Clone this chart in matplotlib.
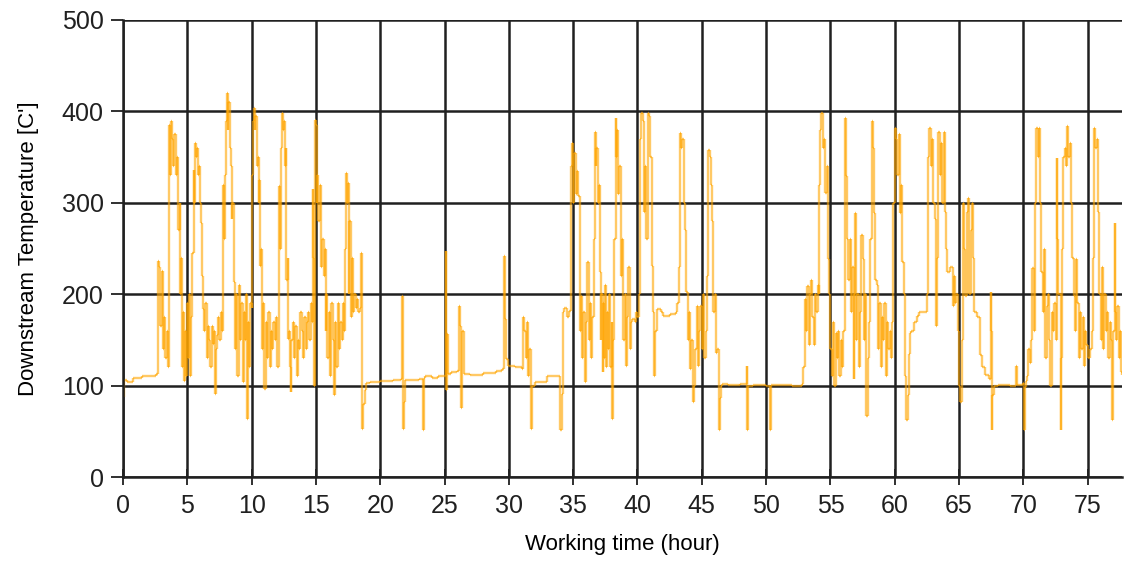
import matplotlib
matplotlib.use("Agg")
import matplotlib.pyplot as plt
from matplotlib.collections import LineCollection
import numpy as np

# readings as (working hour, downstream temperature C)
run_1 = [
    (0.0, 88), (0.05, 106), (0.3, 104), (0.8, 108), (1.5, 110), (2.0, 111), (2.6, 113),
    (2.7, 236), (2.8, 230), (2.9, 165), (3.0, 225), (3.1, 140), (3.2, 175), (3.3, 130),
    (3.4, 160), (3.5, 120), (3.55, 150), (3.6, 385), (3.65, 330), (3.7, 389), (3.8, 370),
    (3.9, 340), (4.0, 375), (4.1, 330), (4.2, 350), (4.3, 270), (4.4, 300), (4.45, 200),
    (4.5, 240), (4.6, 120), (4.7, 180), (4.75, 105), (4.8, 160), (4.9, 110), (5.0, 190),
    (5.05, 130), (5.1, 200), (5.2, 110), (5.3, 175), (5.4, 245), (5.5, 336), (5.55, 300),
    (5.6, 365), (5.7, 350), (5.75, 360), (5.8, 330), (5.9, 340), (6.0, 300), (6.1, 278),
    (6.15, 220), (6.2, 184), (6.3, 160), (6.4, 190), (6.5, 130), (6.6, 165), (6.7, 150),
    (6.8, 120), (6.9, 165), (7.0, 145), (7.1, 160), (7.15, 91), (7.2, 140), (7.3, 155),
    (7.4, 175), (7.5, 150), (7.6, 180), (7.7, 160), (7.8, 320), (7.85, 260), (7.9, 330),
    (8.0, 390), (8.1, 420), (8.15, 380), (8.2, 410), (8.3, 360), (8.4, 340), (8.45, 282),
    (8.5, 300), (8.6, 213), (8.7, 140), (8.8, 200), (8.9, 110), (9.0, 210), (9.1, 150),
    (9.2, 190), (9.3, 104), (9.4, 180), (9.5, 150), (9.6, 200), (9.65, 64), (9.7, 170),
    (9.8, 120), (9.9, 190), (10.0, 185), (10.05, 330), (10.1, 390), (10.2, 404),
    (10.25, 380), (10.3, 395), (10.4, 340), (10.5, 350), (10.55, 300), (10.6, 325),
    (10.65, 231), (10.7, 250), (10.8, 140), (10.9, 190), (11.0, 96), (11.1, 170),
    (11.2, 130), (11.3, 180), (11.4, 120), (11.5, 160), (11.6, 140), (11.7, 170),
    (11.8, 150), (11.9, 175), (12.0, 120), (12.1, 160), (12.15, 318), (12.2, 250),
    (12.3, 360), (12.4, 398), (12.45, 380), (12.5, 390), (12.6, 340), (12.65, 360),
    (12.7, 216), (12.8, 240), (12.85, 151), (12.9, 160), (13.0, 120), (13.05, 93),
    (13.1, 150), (13.2, 170), (13.3, 130), (13.4, 165), (13.5, 110), (13.6, 150),
    (13.7, 140), (13.8, 180), (13.9, 160), (14.0, 130), (14.1, 175), (14.2, 140),
    (14.3, 170), (14.4, 180), (14.5, 150), (14.6, 190), (14.7, 170), (14.75, 315),
    (14.8, 240), (14.85, 100), (14.9, 391), (15.0, 385), (15.05, 300), (15.1, 330),
    (15.2, 280), (15.3, 320), (15.4, 230), (15.5, 260), (15.6, 220), (15.7, 250),
    (15.75, 160), (15.8, 200), (15.9, 130), (16.0, 180), (16.1, 110), (16.2, 190),
    (16.3, 150), (16.4, 90), (16.5, 170), (16.6, 120), (16.7, 190), (16.8, 140),
    (16.9, 170), (17.0, 150), (17.1, 190), (17.2, 160), (17.3, 250), (17.35, 333),
    (17.4, 300), (17.5, 322), (17.55, 200), (17.6, 280), (17.7, 175), (17.8, 240),
    (17.9, 180), (18.0, 200), (18.1, 185), (18.2, 195), (18.3, 180), (18.4, 185),
    (18.5, 245), (18.55, 240), (18.6, 53), (18.7, 80), (18.8, 95),
]

idle_1 = [
    (18.9, 103), (19.2, 104), (20.0, 105), (21.0, 106), (21.6, 107), (21.7, 198),
    (21.75, 190), (21.8, 53), (21.85, 82), (21.9, 106), (22.5, 106), (23.0, 107),
    (23.3, 51), (23.4, 108), (23.5, 110), (24.0, 108), (24.5, 110), (25.0, 111),
    (25.1, 247), (25.15, 95), (25.2, 156), (25.3, 113), (25.5, 115), (26.0, 116),
    (26.1, 187), (26.2, 165), (26.25, 130), (26.3, 75), (26.35, 160), (26.5, 113),
    (27.0, 112), (28.0, 114), (29.0, 116), (29.5, 118), (29.6, 242), (29.7, 173),
    (29.8, 129), (29.9, 122), (30.5, 120), (31.0, 118), (31.1, 175), (31.2, 160),
    (31.3, 130), (31.4, 170), (31.5, 110), (31.6, 140), (31.7, 53), (31.8, 100),
    (32.0, 104), (33.0, 110), (34.0, 51), (34.1, 91), (34.2, 180), (34.3, 185),
    (34.5, 175), (34.7, 182),
]

run_2 = [
    (34.8, 185), (34.85, 340), (34.9, 365), (35.0, 300), (35.05, 345), (35.1, 355),
    (35.2, 310), (35.3, 335), (35.4, 307), (35.5, 240), (35.55, 160), (35.6, 198),
    (35.7, 130), (35.8, 180), (35.9, 104), (36.0, 170), (36.1, 235), (36.2, 150),
    (36.3, 190), (36.4, 130), (36.5, 175), (36.6, 260), (36.7, 378), (36.75, 340),
    (36.8, 360), (36.9, 300), (37.0, 320), (37.05, 240), (37.1, 224), (37.15, 150),
    (37.2, 200), (37.3, 115), (37.35, 190), (37.4, 130), (37.5, 210), (37.55, 120),
    (37.6, 180), (37.7, 140), (37.8, 200), (37.9, 120), (38.0, 170), (38.05, 64),
    (38.1, 150), (38.2, 260), (38.3, 393), (38.35, 350), (38.4, 380), (38.5, 310),
    (38.6, 340), (38.7, 220), (38.8, 260), (38.9, 150), (39.0, 200), (39.1, 122),
    (39.2, 175), (39.3, 230), (39.4, 140), (39.5, 170), (39.6, 173), (39.8, 170),
    (39.9, 180), (40.0, 175), (40.1, 200), (40.2, 370), (40.3, 398), (40.4, 390),
    (40.5, 290), (40.6, 340), (40.7, 260), (40.8, 398), (40.9, 395), (41.0, 350),
    (41.1, 231), (41.2, 180), (41.3, 111), (41.4, 160), (41.5, 184), (41.8, 180),
    (42.0, 176), (42.5, 178), (43.0, 180), (43.1, 190), (43.2, 230), (43.3, 376),
    (43.4, 360), (43.5, 370), (43.6, 300), (43.7, 270), (43.8, 202), (43.9, 150),
    (44.0, 180), (44.1, 118), (44.2, 150), (44.3, 82), (44.4, 100), (44.5, 140),
    (44.6, 187), (44.7, 122), (44.8, 160), (44.9, 187), (45.0, 140), (45.1, 200),
    (45.2, 130), (45.3, 160), (45.4, 220), (45.5, 358), (45.6, 350), (45.7, 320),
    (45.8, 280), (45.9, 180), (46.0, 200), (46.1, 136), (46.2, 140), (46.35, 51),
    (46.4, 86),
]

idle_2 = [
    (46.5, 100), (46.6, 102), (47.0, 101), (48.0, 102), (48.5, 122), (48.55, 51),
    (48.6, 100), (49.0, 101), (50.0, 100), (50.3, 51), (50.35, 92), (50.4, 101),
    (51.0, 101), (52.0, 100), (52.8, 102), (52.9, 120), (53.0, 195), (53.1, 160),
    (53.2, 209), (53.3, 144), (53.4, 200), (53.5, 216), (53.6, 175), (53.7, 144),
    (53.8, 200), (53.9, 180), (54.0, 210), (54.1, 200),
]

run_3 = [
    (54.15, 320), (54.2, 380), (54.3, 398), (54.4, 360), (54.5, 370), (54.6, 311),
    (54.7, 340), (54.8, 238), (54.9, 200), (55.0, 140), (55.1, 110), (55.2, 170),
    (55.3, 100), (55.4, 158), (55.5, 130), (55.6, 160), (55.7, 111), (55.8, 150),
    (55.9, 120), (56.0, 160), (56.1, 330), (56.15, 393), (56.2, 329), (56.3, 260),
    (56.4, 216), (56.5, 260), (56.6, 180), (56.7, 230), (56.8, 107), (56.85, 200),
    (56.9, 289), (57.0, 150), (57.1, 200), (57.2, 120), (57.3, 180), (57.4, 265),
    (57.5, 238), (57.6, 150), (57.7, 200), (57.8, 67), (57.9, 130), (58.0, 170),
    (58.1, 260), (58.2, 389), (58.3, 360), (58.4, 289), (58.5, 216), (58.6, 210),
    (58.7, 140), (58.8, 190), (58.9, 120), (59.0, 175), (59.1, 150), (59.2, 190),
    (59.3, 111), (59.4, 170), (59.5, 140), (59.6, 160), (59.7, 130), (59.8, 170),
    (59.9, 300), (60.0, 382), (60.1, 370), (60.2, 330), (60.3, 375), (60.4, 289),
    (60.5, 320), (60.6, 235), (60.7, 200), (60.8, 110), (60.9, 62), (61.0, 90),
    (61.1, 135), (61.2, 158), (61.3, 160), (61.5, 170), (61.7, 176), (61.9, 180),
    (62.3, 181), (62.5, 200), (62.6, 350), (62.7, 382), (62.8, 340), (62.9, 370),
    (63.0, 300), (63.1, 282), (63.2, 165), (63.3, 240), (63.4, 378), (63.5, 330),
    (63.6, 365), (63.7, 300), (63.8, 378), (63.9, 290), (64.0, 250), (64.1, 224),
    (64.3, 230), (64.5, 187), (64.6, 220), (64.7, 190), (64.8, 200), (64.9, 160),
    (65.0, 100), (65.1, 82), (65.2, 150), (65.3, 300), (65.4, 250), (65.5, 198),
    (65.6, 290), (65.7, 305), (65.8, 200), (65.9, 270), (66.0, 300), (66.1, 240),
    (66.2, 180), (66.4, 175), (66.6, 133), (66.8, 120), (67.0, 112), (67.3, 107),
    (67.45, 202), (67.5, 160), (67.55, 51), (67.6, 90),
]

idle_3 = [
    (67.7, 100), (68.0, 101), (69.0, 100), (69.4, 102), (69.45, 122), (69.5, 101),
    (70.0, 103), (70.05, 51), (70.1, 98), (70.2, 105), (70.3, 110), (70.4, 140),
    (70.5, 125), (70.6, 150),
]

run_4 = [
    (70.7, 229), (70.8, 160), (70.9, 300), (71.0, 382), (71.1, 350), (71.2, 382),
    (71.3, 300), (71.35, 238), (71.4, 224), (71.5, 180), (71.6, 250), (71.7, 130),
    (71.8, 187), (71.9, 200), (72.0, 150), (72.1, 100), (72.2, 180), (72.3, 160),
    (72.4, 190), (72.5, 150), (72.6, 349), (72.65, 260), (72.7, 200), (72.9, 51),
    (72.95, 130), (73.0, 250), (73.1, 350), (73.2, 360), (73.3, 340), (73.4, 384),
    (73.5, 350), (73.6, 365), (73.7, 300), (73.8, 240), (73.9, 198), (74.0, 160),
    (74.1, 238), (74.2, 190), (74.3, 130), (74.4, 180), (74.5, 140), (74.6, 175),
    (74.7, 122), (74.8, 160), (74.9, 144), (75.0, 130), (75.2, 140), (75.3, 160),
    (75.4, 240), (75.5, 382), (75.6, 360), (75.7, 370), (75.8, 290), (75.9, 200),
    (76.0, 150), (76.1, 230), (76.2, 140), (76.3, 200), (76.4, 160), (76.5, 180),
    (76.6, 130), (76.7, 170), (76.8, 150), (76.9, 62), (77.0, 160), (77.1, 278),
    (77.15, 180), (77.2, 150), (77.3, 187), (77.4, 130), (77.5, 160), (77.6, 115),
    (77.7, 112),
]

y_ticks = [0, 100, 200, 300, 400, 500]
x_ticks = list(range(0, 80, 5))

readings = run_1 + idle_1 + run_2 + idle_2 + run_3 + idle_3 + run_4
hours = np.array([r[0] for r in readings])
temps = np.array([r[1] for r in readings])

# step-like trace, one segment per piece so that overlapping strokes darken
segs = []
for i in range(len(hours) - 1):
    segs.append([(hours[i], temps[i]), (hours[i + 1], temps[i])])
    segs.append([(hours[i + 1], temps[i]), (hours[i + 1], temps[i + 1])])

plt.rcParams['font.family'] = ['Liberation Sans', 'DejaVu Sans']

fig = plt.figure(figsize=(11.24, 5.63), dpi=100)
ax = fig.add_axes([0.1094, 0.1527, 0.8886, 0.8118])

lc = LineCollection(segs, colors='#FFA500', linewidths=1.7, alpha=0.6, capstyle='butt')
ax.add_collection(lc)

ax.set_xlim(0, 77.65)
ax.set_ylim(0, 500)
ax.set_xticks(x_ticks)
ax.set_yticks(y_ticks)
ax.grid(True, color='#202020', linewidth=1.8)
ax.set_axisbelow(True)

for side in ['top', 'right']:
    ax.spines[side].set_visible(False)
for side in ['left', 'bottom']:
    ax.spines[side].set_linewidth(1.8)
    ax.spines[side].set_color('#202020')

ax.tick_params(axis='both', width=1.3, labelsize=18, colors='#202020')
ax.tick_params(axis='x', direction='inout', length=12, pad=6)
ax.tick_params(axis='y', direction='out', length=9, pad=5)

ax.set_xlabel("Working time (hour)", fontsize=16, labelpad=12)
ax.set_ylabel("Downstream Temperature [C']", fontsize=16, labelpad=16)

fig.savefig("out.png", dpi=100)
